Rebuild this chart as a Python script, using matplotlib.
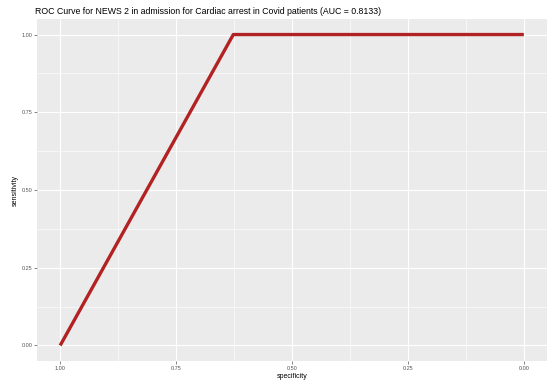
from matplotlib import rcParams
from matplotlib import pyplot as plt
from matplotlib.ticker import MultipleLocator

specificity = [1.00, 0.6266, 0.00]
sensitivity = [0.00, 1.00, 1.00]
tick_vals = [0.00, 0.25, 0.50, 0.75, 1.00]
tick_labels = ['0.00', '0.25', '0.50', '0.75', '1.00']

rcParams['font.family'] = ['Liberation Sans', 'DejaVu Sans']

fig = plt.figure(figsize=(5.47, 3.82), dpi=100)
ax = fig.add_axes([37 / 547, 21 / 382, 510 / 547, 342 / 382])
ax.set_facecolor('#EBEBEB')

ax.plot(specificity, sensitivity, color='#B22222', linewidth=2.4,
        solid_capstyle='butt', zorder=3)

ax.set_xlim(1.05, -0.05)
ax.set_ylim(-0.05, 1.05)
ax.set_xticks(tick_vals)
ax.set_xticklabels(tick_labels)
ax.set_yticks(tick_vals)
ax.set_yticklabels(tick_labels)
ax.xaxis.set_minor_locator(MultipleLocator(0.125))
ax.yaxis.set_minor_locator(MultipleLocator(0.125))
ax.grid(which='major', color='white', linewidth=0.8)
ax.grid(which='minor', color='white', linewidth=0.4)
ax.set_axisbelow(True)
for s in ax.spines.values():
    s.set_visible(False)
ax.tick_params(which='major', length=2, width=0.5, color='#555555',
               labelsize=4, labelcolor='#555555', pad=1.5)
ax.tick_params(which='minor', length=0)

ax.set_xlabel('specificity', fontsize=5, labelpad=1.5)
ax.set_ylabel('sensitivity', fontsize=5, labelpad=2)
fig.text(35 / 547, 1 - 11 / 382,
         'ROC Curve for NEWS 2 in admission for Cardiac arrest in Covid patients (AUC = 0.8133)',
         fontsize=6.3, va='center', ha='left')

plt.savefig('out.png', dpi=100)
